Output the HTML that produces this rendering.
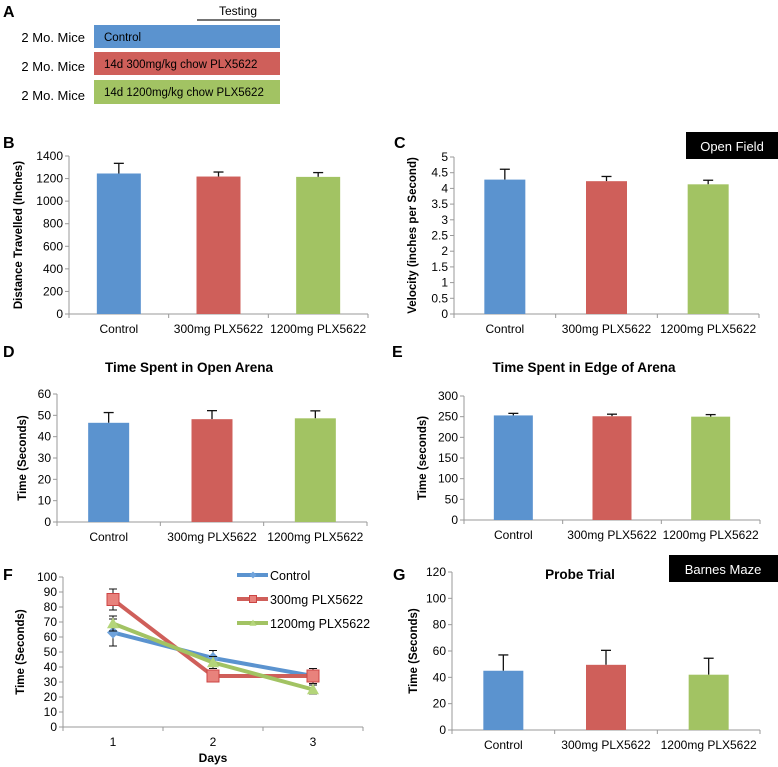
<!DOCTYPE html>
<html><head><meta charset="utf-8"><style>
body{margin:0;background:#fff}
svg{display:block;font-family:"Liberation Sans",Arial,sans-serif}
</style></head><body>
<svg id="fig" width="778" height="767" viewBox="0 0 778 767">
<g>
<text x="3" y="17" font-size="16" font-weight="bold">A</text>
<text x="238" y="15" font-size="12" text-anchor="middle">Testing</text>
<line x1="197" y1="20" x2="280" y2="20" stroke="#222" stroke-width="1.2"/>
<text x="85" y="42" font-size="13" text-anchor="end">2 Mo. Mice</text>
<text x="85" y="71" font-size="13" text-anchor="end">2 Mo. Mice</text>
<text x="85" y="100" font-size="13" text-anchor="end">2 Mo. Mice</text>
<rect x="94" y="25" width="186" height="23" fill="#5b93cf"/>
<rect x="94" y="52" width="186" height="23" fill="#cf5f5a"/>
<rect x="94" y="80" width="186" height="24" fill="#a2c363"/>
<text x="104" y="41" font-size="11.5">Control</text>
<text x="104" y="68" font-size="11.5">14d 300mg/kg chow PLX5622</text>
<text x="104" y="96" font-size="11.5">14d 1200mg/kg chow PLX5622</text>
</g>
<text x="3" y="148" font-size="16" font-weight="bold">B</text>
<text x="394" y="148" font-size="16" font-weight="bold">C</text>
<rect x="686" y="132" width="92" height="27" fill="#000"/>
<text x="732" y="151" font-size="13" fill="#fff" text-anchor="middle">Open Field</text>
<text x="3" y="357" font-size="16" font-weight="bold">D</text>
<text x="392" y="357" font-size="16" font-weight="bold">E</text>
<text x="3" y="580" font-size="16" font-weight="bold">F</text>
<text x="393" y="580" font-size="16" font-weight="bold">G</text>
<rect x="669" y="555" width="109" height="27" fill="#000"/>
<text x="723" y="574" font-size="13" fill="#fff" text-anchor="middle">Barnes Maze</text>
</svg>
<script>
const categories = ["Control", "300mg PLX5622", "1200mg PLX5622"];
const colors = ["#5b93cf", "#cf5f5a", "#a2c363"];
const distanceValues = [1245, 1218, 1215];
const distanceErrors = [90, 40, 38];
const distanceTicks = [0, 200, 400, 600, 800, 1000, 1200, 1400];
const velocityValues = [4.28, 4.23, 4.13];
const velocityErrors = [0.33, 0.15, 0.13];
const velocityTicks = [0, 0.5, 1, 1.5, 2, 2.5, 3, 3.5, 4, 4.5, 5];
const openValues = [46.5, 48.2, 48.6];
const openErrors = [4.8, 4.0, 3.5];
const openTicks = [0, 10, 20, 30, 40, 50, 60];
const edgeValues = [253, 251, 250];
const edgeErrors = [5, 5, 5];
const edgeTicks = [0, 50, 100, 150, 200, 250, 300];
const probeValues = [45, 49.5, 42];
const probeErrors = [12, 11, 12.5];
const probeTicks = [0, 20, 40, 60, 80, 100, 120];
const days = [1, 2, 3];
const lineSeriesNames = ["Control", "300mg PLX5622", "1200mg PLX5622"];
const controlLine = [63, 46, 34];
const controlLineErr = [9, 5, 4];
const lowLine = [85, 34, 34];
const lowLineErr = [7, 3, 5];
const highLine = [69, 43, 25];
const highLineErr = [5, 4, 3];
const lineTicks = [0, 10, 20, 30, 40, 50, 60, 70, 80, 90, 100];

const svg = document.getElementById('fig');
const NS = 'http://www.w3.org/2000/svg';
function mk(tag, attrs, parent, text) {
  const e = document.createElementNS(NS, tag);
  for (const k in attrs) e.setAttribute(k, attrs[k]);
  if (text !== undefined) e.textContent = text;
  (parent || svg).appendChild(e);
  return e;
}
function axes(g, cfg, ticks, ymax, catCount) {
  const ys = v => cfg.y0 - (v / ymax) * (cfg.y0 - cfg.y1);
  const ax = mk('line', {x1: cfg.x0, y1: cfg.y1, x2: cfg.x0, y2: cfg.y0, stroke: '#999'}, g);
  
  
  const bx = mk('line', {x1: cfg.x0, y1: cfg.y0, x2: cfg.x1, y2: cfg.y0, stroke: '#999'}, g);
  
  
  ticks.forEach(t => {
    const y = ys(t);
    mk('line', {x1: cfg.x0 - 4, y1: y, x2: cfg.x0, y2: y, stroke: '#999'}, g);
    const tl = mk('text', {x: cfg.x0 - 6, y: y + 4, 'font-size': 12, 'text-anchor': 'end'}, g, String(t));
    
    
  });
  const cw = (cfg.x1 - cfg.x0) / catCount;
  for (let i = 0; i <= catCount; i++) {
    mk('line', {x1: cfg.x0 + i * cw, y1: cfg.y0, x2: cfg.x0 + i * cw, y2: cfg.y0 + 4, stroke: '#999'}, g);
  }
  const yt = mk('text', {x: 0, y: 0, 'font-size': 11.5, 'font-weight': 'bold', 'text-anchor': 'middle',
    transform: `translate(${cfg.titleX},${(cfg.y0 + cfg.y1) / 2}) rotate(-90)`}, g, cfg.ytitle);
  
  
  if (cfg.title) {
    const tt = mk('text', {x: cfg.titleCx, y: cfg.titleY, 'font-size': 13.5, 'font-weight': 'bold', 'text-anchor': 'middle'}, g, cfg.title);
    
    
  }
  return {ys, cw};
}
function barChart(name, cfg, values, errors, ticks) {
  const g = mk('g', {});
  
  
  const ymax = ticks[ticks.length - 1];
  const {ys, cw} = axes(g, cfg, ticks, ymax, categories.length);
  categories.forEach((c, i) => {
    const cx = cfg.x0 + cw * (i + 0.5);
    const top = ys(values[i]);
    const etop = ys(values[i] + errors[i]);
    const el = mk('line', {x1: cx, y1: top, x2: cx, y2: etop, stroke: '#111', 'stroke-width': 1.3}, g);
    
    
    mk('line', {x1: cx - 5, y1: etop, x2: cx + 5, y2: etop, stroke: '#111', 'stroke-width': 1.3}, g);
    const r = mk('rect', {x: cx - cfg.bw / 2, y: top, width: cfg.bw, height: cfg.y0 - top, fill: colors[i]}, g);
    
    
    const lb = mk('text', {x: cx, y: cfg.y0 + 19, 'font-size': 12, 'text-anchor': 'middle'}, g, c);
    
    
  });
}
barChart('distance-chart', {x0: 69, x1: 368, y0: 314, y1: 156, bw: 44, titleX: 22, ytitle: 'Distance Travelled (Inches)'}, distanceValues, distanceErrors, distanceTicks);
barChart('velocity-chart', {x0: 454, x1: 759, y0: 314, y1: 157, bw: 41, titleX: 416, ytitle: 'Velocity (inches per Second)'}, velocityValues, velocityErrors, velocityTicks);
barChart('open-arena-chart', {x0: 57, x1: 367, y0: 522, y1: 394, bw: 41, titleX: 26, ytitle: 'Time (Seconds)', title: 'Time Spent in Open Arena', titleCx: 189, titleY: 372}, openValues, openErrors, openTicks);
barChart('edge-arena-chart', {x0: 464, x1: 760, y0: 520, y1: 396, bw: 39, titleX: 426, ytitle: 'Time (seconds)', title: 'Time Spent in Edge of Arena', titleCx: 584, titleY: 372}, edgeValues, edgeErrors, edgeTicks);
barChart('probe-trial-chart', {x0: 452, x1: 760, y0: 730, y1: 572, bw: 40, titleX: 417, ytitle: 'Time (Seconds)', title: 'Probe Trial', titleCx: 580, titleY: 579}, probeValues, probeErrors, probeTicks);

// Line chart F
(function () {
  const g = mk('g', {});
  
  
  const cfg = {x0: 63, x1: 363, y0: 727, y1: 577, titleX: 24, ytitle: 'Time (Seconds)'};
  const {ys, cw} = axes(g, cfg, lineTicks, lineTicks[lineTicks.length - 1], days.length);
  const xs = i => cfg.x0 + cw * (i + 0.5);
  days.forEach((d, i) => {
    const t = mk('text', {x: xs(i), y: cfg.y0 + 19, 'font-size': 12, 'text-anchor': 'middle'}, g, String(d));
    
    
  });
  const xt = mk('text', {x: 213, y: 762, 'font-size': 12, 'font-weight': 'bold', 'text-anchor': 'middle'}, g, 'Days');
  
  
  const series = [[controlLine, controlLineErr, 'diamond'], [lowLine, lowLineErr, 'square'], [highLine, highLineErr, 'triangle']];
  function marker(sg, shape, x, y, col, size) {
    let m;
    if (shape === 'diamond') m = mk('polygon', {points: `${x},${y - size} ${x + size},${y} ${x},${y + size} ${x - size},${y}`, fill: col}, sg);
    else if (shape === 'square') m = mk('rect', {x: x - size, y: y - size, width: size * 2, height: size * 2, fill: col, stroke: '#c44'}, sg);
    else m = mk('polygon', {points: `${x},${y - size} ${x + size},${y + size * 0.8} ${x - size},${y + size * 0.8}`, fill: col}, sg);
    
    
  }
  const markerCols = ['#6fa3dc', '#e8827c', '#b4d57a'];
  series.forEach(([vals, errs, shape], s) => {
    const sg = mk('g', {}, g);
    
    
    vals.forEach((v, i) => {
      mk('line', {x1: xs(i), y1: ys(v - errs[i]), x2: xs(i), y2: ys(v + errs[i]), stroke: '#111'}, sg);
      mk('line', {x1: xs(i) - 4, y1: ys(v - errs[i]), x2: xs(i) + 4, y2: ys(v - errs[i]), stroke: '#111'}, sg);
      mk('line', {x1: xs(i) - 4, y1: ys(v + errs[i]), x2: xs(i) + 4, y2: ys(v + errs[i]), stroke: '#111'}, sg);
    });
    const p = mk('polyline', {points: vals.map((v, i) => xs(i) + ',' + ys(v)).join(' '), fill: 'none', stroke: colors[s], 'stroke-width': 4}, sg);
    
    
    vals.forEach((v, i) => marker(sg, shape, xs(i), ys(v), markerCols[s], 6));
    const ly = 575 + s * 24;
    mk('line', {x1: 237, y1: ly, x2: 268, y2: ly, stroke: colors[s], 'stroke-width': 4}, sg);
    marker(sg, shape, 253, ly, markerCols[s], 3.5);
    const lt = mk('text', {x: 270, y: ly + 5, 'font-size': 12.5}, sg, lineSeriesNames[s]);
    
    
  });
})();
</script>
</body></html>
